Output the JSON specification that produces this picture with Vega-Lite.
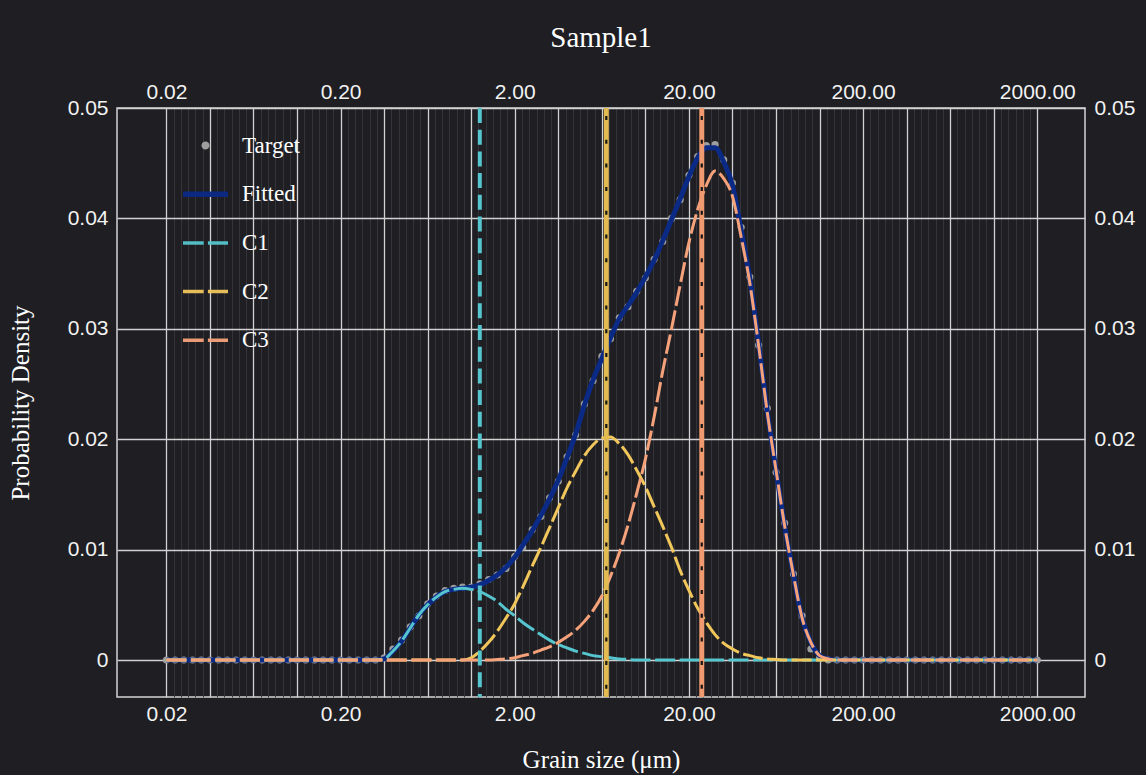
{
  "$schema": "https://vega.github.io/schema/vega-lite/v6.json",
  "width": 968,
  "height": 589,
  "autosize": {"type": "none"},
  "padding": {"left": 117, "top": 108, "right": 61, "bottom": 78},
  "background": "#1e1e23",
  "config": {
    "view": {"stroke": "#d4d4d4", "strokeWidth": 1.5},
    "axis": {
      "labelFont": "Liberation Sans",
      "labelFontSize": 21,
      "labelColor": "#f2f2f2",
      "titleFont": "Liberation Serif",
      "titleFontSize": 25,
      "titleFontWeight": "normal",
      "titleColor": "#ffffff",
      "ticks": false,
      "domain": false,
      "labelOverlap": false,
      "labelBound": false,
      "labelFlush": false
    },
    "legend": {
      "orient": "none",
      "legendX": 77,
      "legendY": 26,
      "title": null,
      "padding": 0,
      "symbolSize": 2025,
      "labelFont": "Liberation Serif",
      "labelFontSize": 23,
      "labelColor": "#ffffff",
      "labelOffset": 25,
      "rowPadding": 24.7
    }
  },
  "title": {
    "text": "Sample1",
    "font": "Liberation Serif",
    "fontSize": 29,
    "fontWeight": "normal",
    "color": "#ffffff",
    "anchor": "middle",
    "offset": 28
  },
  "datasets": {
    "curves": [
      {"size": 0.02, "Target": 0, "Fitted": 0, "C1": 0, "C2": 0, "C3": 0},
      {"size": 0.02244, "Target": 0, "Fitted": 0, "C1": 0, "C2": 0, "C3": 0},
      {"size": 0.025179, "Target": 0, "Fitted": 0, "C1": 0, "C2": 0, "C3": 0},
      {"size": 0.028251, "Target": 0, "Fitted": 0, "C1": 0, "C2": 0, "C3": 0},
      {"size": 0.031698, "Target": 0, "Fitted": 0, "C1": 0, "C2": 0, "C3": 0},
      {"size": 0.035566, "Target": 0, "Fitted": 0, "C1": 0, "C2": 0, "C3": 0},
      {"size": 0.039905, "Target": 0, "Fitted": 0, "C1": 0, "C2": 0, "C3": 0},
      {"size": 0.044774, "Target": 0, "Fitted": 0, "C1": 0, "C2": 0, "C3": 0},
      {"size": 0.050238, "Target": 0, "Fitted": 0, "C1": 0, "C2": 0, "C3": 0},
      {"size": 0.056368, "Target": 0, "Fitted": 0, "C1": 0, "C2": 0, "C3": 0},
      {"size": 0.063246, "Target": 0, "Fitted": 0, "C1": 0, "C2": 0, "C3": 0},
      {"size": 0.070963, "Target": 0, "Fitted": 0, "C1": 0, "C2": 0, "C3": 0},
      {"size": 0.079621, "Target": 0, "Fitted": 0, "C1": 0, "C2": 0, "C3": 0},
      {"size": 0.089337, "Target": 0, "Fitted": 0, "C1": 0, "C2": 0, "C3": 0},
      {"size": 0.100237, "Target": 0, "Fitted": 0, "C1": 0, "C2": 0, "C3": 0},
      {"size": 0.112468, "Target": 0, "Fitted": 0, "C1": 0, "C2": 0, "C3": 0},
      {"size": 0.126191, "Target": 0, "Fitted": 0, "C1": 0, "C2": 0, "C3": 0},
      {"size": 0.141589, "Target": 0, "Fitted": 0, "C1": 0, "C2": 0, "C3": 0},
      {"size": 0.158866, "Target": 0, "Fitted": 0, "C1": 0, "C2": 0, "C3": 0},
      {"size": 0.17825, "Target": 0, "Fitted": 0, "C1": 0, "C2": 0, "C3": 0},
      {"size": 0.2, "Target": 0, "Fitted": 0, "C1": 0, "C2": 0, "C3": 0},
      {"size": 0.2244, "Target": 0, "Fitted": 0, "C1": 0, "C2": 0, "C3": 0},
      {"size": 0.25179, "Target": 0, "Fitted": 0, "C1": 0, "C2": 0, "C3": 0},
      {"size": 0.28251, "Target": 0, "Fitted": 0, "C1": 0, "C2": 0, "C3": 0},
      {"size": 0.31698, "Target": 0, "Fitted": 0, "C1": 0, "C2": 0, "C3": 0},
      {"size": 0.35566, "Target": 0.0002, "Fitted": 0.0001, "C1": 0.0001, "C2": 0, "C3": 0},
      {"size": 0.39905, "Target": 0.001, "Fitted": 0.0008, "C1": 0.0008, "C2": 0, "C3": 0},
      {"size": 0.44774, "Target": 0.0018, "Fitted": 0.0017, "C1": 0.0017, "C2": 0, "C3": 0},
      {"size": 0.50238, "Target": 0.003, "Fitted": 0.0029, "C1": 0.0029, "C2": 0, "C3": 0},
      {"size": 0.56368, "Target": 0.004, "Fitted": 0.0041, "C1": 0.0041, "C2": 0, "C3": 0},
      {"size": 0.63246, "Target": 0.0051, "Fitted": 0.005, "C1": 0.005, "C2": 0, "C3": 0},
      {"size": 0.70963, "Target": 0.0058, "Fitted": 0.0057, "C1": 0.0057, "C2": 0, "C3": 0},
      {"size": 0.79621, "Target": 0.0063, "Fitted": 0.0062, "C1": 0.0062, "C2": 0, "C3": 0},
      {"size": 0.89337, "Target": 0.0065, "Fitted": 0.0064, "C1": 0.0064, "C2": 0, "C3": 0},
      {"size": 1.00237, "Target": 0.0066, "Fitted": 0.0065, "C1": 0.0065, "C2": 0, "C3": 0},
      {"size": 1.12468, "Target": 0.0066, "Fitted": 0.0066, "C1": 0.0064, "C2": 0.0002, "C3": 0},
      {"size": 1.26191, "Target": 0.0069, "Fitted": 0.0068, "C1": 0.0062, "C2": 0.0008, "C3": 0},
      {"size": 1.41589, "Target": 0.0073, "Fitted": 0.0072, "C1": 0.0058, "C2": 0.0016, "C3": 0},
      {"size": 1.58866, "Target": 0.0077, "Fitted": 0.0077, "C1": 0.0053, "C2": 0.0026, "C3": 0.00005},
      {"size": 1.7825, "Target": 0.0083, "Fitted": 0.0084, "C1": 0.0046, "C2": 0.0038, "C3": 0.0001},
      {"size": 2, "Target": 0.0094, "Fitted": 0.0093, "C1": 0.004, "C2": 0.0051, "C3": 0.0002},
      {"size": 2.2244, "Target": 0.0102, "Fitted": 0.0104, "C1": 0.0034, "C2": 0.0066, "C3": 0.0004},
      {"size": 2.5179, "Target": 0.0118, "Fitted": 0.0117, "C1": 0.0028, "C2": 0.0085, "C3": 0.0006},
      {"size": 2.8251, "Target": 0.013, "Fitted": 0.0131, "C1": 0.0023, "C2": 0.0102, "C3": 0.0009},
      {"size": 3.1698, "Target": 0.0147, "Fitted": 0.0146, "C1": 0.0018, "C2": 0.012, "C3": 0.0012},
      {"size": 3.5566, "Target": 0.0162, "Fitted": 0.0163, "C1": 0.0014, "C2": 0.0138, "C3": 0.0016},
      {"size": 3.9905, "Target": 0.0184, "Fitted": 0.0183, "C1": 0.0011, "C2": 0.0156, "C3": 0.0021},
      {"size": 4.4774, "Target": 0.0204, "Fitted": 0.0205, "C1": 0.0008, "C2": 0.0171, "C3": 0.0027},
      {"size": 5.0238, "Target": 0.0232, "Fitted": 0.0231, "C1": 0.0006, "C2": 0.0185, "C3": 0.0035},
      {"size": 5.6368, "Target": 0.0253, "Fitted": 0.0254, "C1": 0.0004, "C2": 0.0195, "C3": 0.0045},
      {"size": 6.3246, "Target": 0.0275, "Fitted": 0.0273, "C1": 0.0003, "C2": 0.0201, "C3": 0.0058},
      {"size": 7.0963, "Target": 0.0291, "Fitted": 0.0292, "C1": 0.0002, "C2": 0.0202, "C3": 0.0076},
      {"size": 7.9621, "Target": 0.031, "Fitted": 0.0309, "C1": 0.0001, "C2": 0.0196, "C3": 0.0097},
      {"size": 8.9337, "Target": 0.032, "Fitted": 0.0321, "C1": 0.00005, "C2": 0.0186, "C3": 0.0122},
      {"size": 10.0237, "Target": 0.0334, "Fitted": 0.0333, "C1": 0, "C2": 0.0172, "C3": 0.0151},
      {"size": 11.2468, "Target": 0.0346, "Fitted": 0.0347, "C1": 0, "C2": 0.0157, "C3": 0.0182},
      {"size": 12.6191, "Target": 0.0363, "Fitted": 0.0362, "C1": 0, "C2": 0.0139, "C3": 0.022},
      {"size": 14.1589, "Target": 0.0379, "Fitted": 0.038, "C1": 0, "C2": 0.0121, "C3": 0.0262},
      {"size": 15.8866, "Target": 0.04, "Fitted": 0.0399, "C1": 0, "C2": 0.0102, "C3": 0.03},
      {"size": 17.825, "Target": 0.0417, "Fitted": 0.0418, "C1": 0, "C2": 0.0081, "C3": 0.034},
      {"size": 20, "Target": 0.0439, "Fitted": 0.0438, "C1": 0, "C2": 0.0063, "C3": 0.0378},
      {"size": 22.44, "Target": 0.0456, "Fitted": 0.0455, "C1": 0, "C2": 0.0047, "C3": 0.0408},
      {"size": 25.179, "Target": 0.0466, "Fitted": 0.0464, "C1": 0, "C2": 0.0034, "C3": 0.043},
      {"size": 28.251, "Target": 0.0467, "Fitted": 0.0464, "C1": 0, "C2": 0.0023, "C3": 0.0443},
      {"size": 31.698, "Target": 0.0453, "Fitted": 0.0451, "C1": 0, "C2": 0.0015, "C3": 0.0436},
      {"size": 35.566, "Target": 0.0432, "Fitted": 0.043, "C1": 0, "C2": 0.001, "C3": 0.042},
      {"size": 39.905, "Target": 0.0392, "Fitted": 0.0389, "C1": 0, "C2": 0.0006, "C3": 0.0383},
      {"size": 44.774, "Target": 0.0347, "Fitted": 0.0345, "C1": 0, "C2": 0.0004, "C3": 0.0341},
      {"size": 50.238, "Target": 0.0285, "Fitted": 0.0287, "C1": 0, "C2": 0.0002, "C3": 0.0285},
      {"size": 56.368, "Target": 0.0228, "Fitted": 0.0225, "C1": 0, "C2": 0.0001, "C3": 0.0224},
      {"size": 63.246, "Target": 0.017, "Fitted": 0.0172, "C1": 0, "C2": 0.00005, "C3": 0.0172},
      {"size": 70.963, "Target": 0.0124, "Fitted": 0.0121, "C1": 0, "C2": 0, "C3": 0.0121},
      {"size": 79.621, "Target": 0.0078, "Fitted": 0.0077, "C1": 0, "C2": 0, "C3": 0.0077},
      {"size": 89.337, "Target": 0.004, "Fitted": 0.0038, "C1": 0, "C2": 0, "C3": 0.0038},
      {"size": 100.237, "Target": 0.001, "Fitted": 0.0016, "C1": 0, "C2": 0, "C3": 0.0016},
      {"size": 112.468, "Target": 0.0002, "Fitted": 0.0004, "C1": 0, "C2": 0, "C3": 0.0004},
      {"size": 126.191, "Target": 0, "Fitted": 0.0001, "C1": 0, "C2": 0, "C3": 0.0001},
      {"size": 141.589, "Target": 0, "Fitted": 0, "C1": 0, "C2": 0, "C3": 0},
      {"size": 158.866, "Target": 0, "Fitted": 0, "C1": 0, "C2": 0, "C3": 0},
      {"size": 178.25, "Target": 0, "Fitted": 0, "C1": 0, "C2": 0, "C3": 0},
      {"size": 200, "Target": 0, "Fitted": 0, "C1": 0, "C2": 0, "C3": 0},
      {"size": 224.4, "Target": 0, "Fitted": 0, "C1": 0, "C2": 0, "C3": 0},
      {"size": 251.79, "Target": 0, "Fitted": 0, "C1": 0, "C2": 0, "C3": 0},
      {"size": 282.51, "Target": 0, "Fitted": 0, "C1": 0, "C2": 0, "C3": 0},
      {"size": 316.98, "Target": 0, "Fitted": 0, "C1": 0, "C2": 0, "C3": 0},
      {"size": 355.66, "Target": 0, "Fitted": 0, "C1": 0, "C2": 0, "C3": 0},
      {"size": 399.05, "Target": 0, "Fitted": 0, "C1": 0, "C2": 0, "C3": 0},
      {"size": 447.74, "Target": 0, "Fitted": 0, "C1": 0, "C2": 0, "C3": 0},
      {"size": 502.38, "Target": 0, "Fitted": 0, "C1": 0, "C2": 0, "C3": 0},
      {"size": 563.68, "Target": 0, "Fitted": 0, "C1": 0, "C2": 0, "C3": 0},
      {"size": 632.46, "Target": 0, "Fitted": 0, "C1": 0, "C2": 0, "C3": 0},
      {"size": 709.63, "Target": 0, "Fitted": 0, "C1": 0, "C2": 0, "C3": 0},
      {"size": 796.21, "Target": 0, "Fitted": 0, "C1": 0, "C2": 0, "C3": 0},
      {"size": 893.37, "Target": 0, "Fitted": 0, "C1": 0, "C2": 0, "C3": 0},
      {"size": 1002.37, "Target": 0, "Fitted": 0, "C1": 0, "C2": 0, "C3": 0},
      {"size": 1124.68, "Target": 0, "Fitted": 0, "C1": 0, "C2": 0, "C3": 0},
      {"size": 1261.91, "Target": 0, "Fitted": 0, "C1": 0, "C2": 0, "C3": 0},
      {"size": 1415.89, "Target": 0, "Fitted": 0, "C1": 0, "C2": 0, "C3": 0},
      {"size": 1588.66, "Target": 0, "Fitted": 0, "C1": 0, "C2": 0, "C3": 0},
      {"size": 1782.5, "Target": 0, "Fitted": 0, "C1": 0, "C2": 0, "C3": 0},
      {"size": 2000, "Target": 0, "Fitted": 0, "C1": 0, "C2": 0, "C3": 0}
    ],
    "modes": [
      {"comp": "C1", "size": 1.26},
      {"comp": "C2", "size": 6.71},
      {"comp": "C3", "size": 23.7}
    ]
  },
  "data": {"name": "curves"},
  "transform": [{"fold": ["Target", "Fitted", "C1", "C2", "C3"], "as": ["series", "value"]}],
  "layer": [
    {
      "transform": [{"filter": "datum.series === 'Target'"}],
      "mark": {"type": "circle", "size": 50, "opacity": 0.95},
      "encoding": {
        "x": {
          "field": "size", "type": "quantitative",
          "scale": {"type": "log", "domain": [0.01041, 3758], "nice": false},
          "axis": {
            "orient": "bottom",
            "title": "Grain size (μm)",
            "titlePadding": 23,
            "labelPadding": 6,
            "values": [0.02, 0.0220138, 0.0242306, 0.0266704, 0.029356, 0.032312, 0.0355656, 0.0391468, 0.0430886, 0.0474274, 0.0522032, 0.0574596, 0.0632456, 0.069614, 0.0766238, 0.0843394, 0.0928318, 0.1021794, 0.1124682, 0.1237932, 0.1362584, 0.1499788, 0.1650808, 0.1817036,
              0.2, 0.220138, 0.242306, 0.266704, 0.29356, 0.32312, 0.355656, 0.391468, 0.430886, 0.474274, 0.522032, 0.574596, 0.632456, 0.69614, 0.766238, 0.843394, 0.928318, 1.021794, 1.124682, 1.237932, 1.362584, 1.499788, 1.650808, 1.817036,
              2, 2.20138, 2.42306, 2.66704, 2.9356, 3.2312, 3.55656, 3.91468, 4.30886, 4.74274, 5.22032, 5.74596, 6.32456, 6.9614, 7.66238, 8.43394, 9.28318, 10.21794, 11.24682, 12.37932, 13.62584, 14.99788, 16.50808, 18.17036,
              20, 22.0138, 24.2306, 26.6704, 29.356, 32.312, 35.5656, 39.1468, 43.0886, 47.4274, 52.2032, 57.4596, 63.2456, 69.614, 76.6238, 84.3394, 92.8318, 102.1794, 112.4682, 123.7932, 136.2584, 149.9788, 165.0808, 181.7036,
              200, 220.138, 242.306, 266.704, 293.56, 323.12, 355.656, 391.468, 430.886, 474.274, 522.032, 574.596, 632.456, 696.14, 766.238, 843.394, 928.318, 1021.794, 1124.682, 1237.932, 1362.584, 1499.788, 1650.808, 1817.036,
              2000],
            "labelExpr": "abs(log(datum.value/0.02)/LN10 - round(log(datum.value/0.02)/LN10)) < 0.001 ? format(datum.value, '.2f') : ''",
            "grid": true,
            "gridColor": {"condition": {"test": "abs(4*log(datum.value/0.02)/LN10 - round(4*log(datum.value/0.02)/LN10)) < 0.01", "value": "#d2d2d2"}, "value": "#34343b"},
            "gridWidth": {"condition": {"test": "abs(4*log(datum.value/0.02)/LN10 - round(4*log(datum.value/0.02)/LN10)) < 0.01", "value": 1.3}, "value": 1}
          }
        },
        "y": {
          "field": "value", "type": "quantitative",
          "scale": {"domain": [-0.00335, 0.05], "nice": false, "zero": false},
          "axis": {
            "orient": "left",
            "title": "Probability Density",
            "titlePadding": 34,
            "labelPadding": 9,
            "values": [0, 0.01, 0.02, 0.03, 0.04, 0.05],
            "format": ".2~f",
            "grid": true,
            "gridColor": "#d2d2d2",
            "gridWidth": 1.3
          }
        },
        "color": {
          "field": "series", "type": "nominal",
          "scale": {"domain": ["Target", "Fitted", "C1", "C2", "C3"], "range": ["#a5a5a5", "#0b2a86", "#56c5cd", "#f1c75c", "#f5a27b"]},
          "legend": {
            "symbolType": {"expr": "datum.value === 'Target' ? 'M -0.1 0 A 0.1 0.1 0 1 0 0.1 0 A 0.1 0.1 0 1 0 -0.1 0 Z' : 'stroke'"},
            "symbolDash": {"expr": "datum.value === 'Target' || datum.value === 'Fitted' ? [1, 0] : [20.7, 4.2]"},
            "symbolStrokeWidth": {"expr": "datum.value === 'Fitted' ? 5.5 : 3.5"}
          }
        }
      }
    },
    {
      "transform": [{"filter": "datum.series === 'Fitted'"}],
      "mark": {"type": "line", "strokeWidth": 5, "interpolate": "monotone"},
      "encoding": {
        "x": {
          "field": "size", "type": "quantitative",
          "axis": {
            "orient": "top",
            "title": null,
            "labelPadding": 6,
            "values": [0.02, 0.2, 2, 20, 200, 2000],
            "format": ".2f",
            "grid": false
          }
        },
        "y": {
          "field": "value", "type": "quantitative",
          "axis": {
            "orient": "right",
            "title": null,
            "labelPadding": 9,
            "values": [0, 0.01, 0.02, 0.03, 0.04, 0.05],
            "format": ".2~f",
            "grid": false
          }
        },
        "color": {
          "field": "series", "type": "nominal",
          "legend": {
            "symbolType": {"expr": "datum.value === 'Target' ? 'M -0.1 0 A 0.1 0.1 0 1 0 0.1 0 A 0.1 0.1 0 1 0 -0.1 0 Z' : 'stroke'"},
            "symbolDash": {"expr": "datum.value === 'Target' || datum.value === 'Fitted' ? [1, 0] : [20.7, 4.2]"},
            "symbolStrokeWidth": {"expr": "datum.value === 'Fitted' ? 5.5 : 3.5"}
          }
        }
      }
    },
    {
      "transform": [{"filter": "datum.series === 'C1' || datum.series === 'C2' || datum.series === 'C3'"}],
      "mark": {"type": "line", "strokeWidth": 3, "strokeDash": [20, 4.5], "interpolate": "monotone"},
      "encoding": {
        "x": {"field": "size", "type": "quantitative", "axis": null},
        "y": {"field": "value", "type": "quantitative", "axis": null},
        "color": {
          "field": "series", "type": "nominal",
          "legend": {
            "symbolType": {"expr": "datum.value === 'Target' ? 'M -0.1 0 A 0.1 0.1 0 1 0 0.1 0 A 0.1 0.1 0 1 0 -0.1 0 Z' : 'stroke'"},
            "symbolDash": {"expr": "datum.value === 'Target' || datum.value === 'Fitted' ? [1, 0] : [20.7, 4.2]"},
            "symbolStrokeWidth": {"expr": "datum.value === 'Fitted' ? 5.5 : 3.5"}
          }
        }
      }
    },
    {
      "data": {"name": "modes"},
      "transform": [{"filter": "datum.comp !== 'C1'"}],
      "mark": {"type": "rule", "strokeWidth": 5},
      "encoding": {
        "x": {"field": "size", "type": "quantitative", "axis": null},
        "stroke": {"field": "comp", "type": "nominal", "scale": {"domain": ["C1", "C2", "C3"], "range": ["#56c5cd", "#e2bc52", "#f09a70"]}, "legend": null}
      }
    },
    {
      "data": {"name": "modes"},
      "transform": [{"filter": "datum.comp !== 'C1'"}],
      "mark": {"type": "rule", "strokeWidth": 2.2, "color": "#141414", "strokeDash": [4, 19.7], "strokeDashOffset": -8},
      "encoding": {
        "x": {"field": "size", "type": "quantitative", "axis": null}
      }
    },
    {
      "data": {"name": "modes"},
      "transform": [{"filter": "datum.comp === 'C1'"}],
      "mark": {"type": "rule", "strokeWidth": 4, "color": "#56c5cd", "strokeDash": [15, 6.7]},
      "encoding": {
        "x": {"field": "size", "type": "quantitative", "axis": null}
      }
    }
  ]
}
